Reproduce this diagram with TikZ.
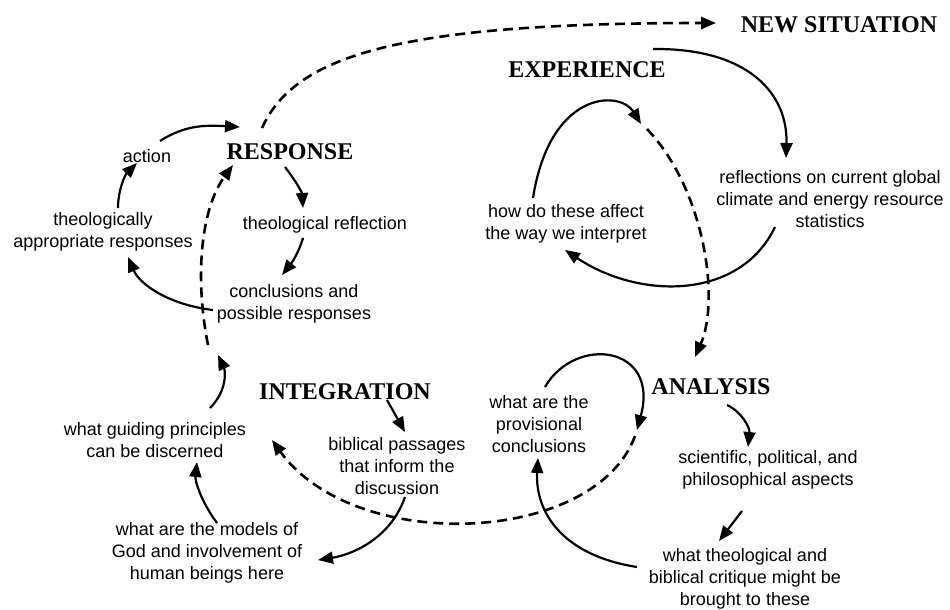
\documentclass[tikz,border=0pt]{standalone}
\usepackage{fontspec}
\setmainfont{Liberation Serif}
\setsansfont{Liberation Sans}
\usetikzlibrary{arrows.meta}
\tikzset{
  txt/.style={font=\sffamily\fontsize{18}{22}\selectfont, align=center, inner sep=0pt},
  phase/.style={font=\rmfamily\bfseries\fontsize{24}{26}\selectfont, inner sep=0pt},
  solidarrow/.style={line width=2.2pt, -{Triangle[length=15pt,width=12pt]}},
  dasharrow/.style={line width=2.6pt, dash pattern=on 10pt off 6pt, -{Triangle[length=15pt,width=12pt]}}
}
\begin{document}
\begin{tikzpicture}[x=1pt,y=-1pt]
\useasboundingbox (0,0) rectangle (950,610);
\fill[white] (0,0) rectangle (950,610);

% phase labels
\node[phase] (newsit) at (839,25) {NEW SITUATION};
\node[phase] (exp) at (587,70) {EXPERIENCE};
\node[phase] (resp) at (290,152) {RESPONSE};
\node[phase] (integ) at (345,392) {INTEGRATION};
\node[phase] (anal) at (711,387) {ANALYSIS};

% text nodes
\node[txt] (refl) at (830,199) {reflections on current global\\climate and energy resource\\statistics};
\node[txt] (howdo) at (566,224) {how do these affect\\the way we interpret};
\node[txt] (action) at (147,156) {action};
\node[txt] (theoapp) at (103,232) {theologically\\appropriate responses};
\node[txt] (theorefl) at (325,225) {theological reflection};
\node[txt] (concl) at (294,304) {conclusions and\\possible responses};
\node[txt] (guiding) at (155,440) {what guiding principles\\can be discerned};
\node[txt] (biblical) at (397,466) {biblical passages\\that inform the\\discussion};
\node[txt] (models) at (207,553) {what are the models of\\God and involvement of\\human beings here};
\node[txt] (provis) at (539,424) {what are the\\provisional\\conclusions};
\node[txt] (sci) at (768,470) {scientific, political, and\\philosophical aspects};
\node[txt] (whattheo) at (745,579) {what theological and\\biblical critique might be\\brought to these};

% connector end points
\coordinate (dtopS) at (262,128);
\coordinate (dtopE) at (716,23);
\coordinate (expS) at (653,49);
\coordinate (reflT) at (786,158);
\coordinate (reflS) at (775,227);
\coordinate (howT) at (565,250);
\coordinate (howS) at (533,198);
\coordinate (loopT) at (641,124);
\coordinate (dexpS) at (647,129);
\coordinate (analT) at (695,357);
\coordinate (provS) at (545,387);
\coordinate (provLoopT) at (637,430);
\coordinate (dbigS) at (635,436);
\coordinate (guidT) at (272,440);
\coordinate (analS) at (727,405);
\coordinate (sciT) at (748,447);
\coordinate (sciS) at (742,511);
\coordinate (wtT) at (719,541);
\coordinate (wtS) at (637,567);
\coordinate (provT) at (538,458);
\coordinate (integS) at (387,400);
\coordinate (bibT) at (405,432);
\coordinate (bibS) at (405,497);
\coordinate (modT) at (318,560);
\coordinate (modS) at (217,523);
\coordinate (guidT2) at (197,462);
\coordinate (guidS) at (210,408);
\coordinate (dresT) at (218,355);
\coordinate (dresS) at (208,345);
\coordinate (respT) at (233,165);
\coordinate (conclS) at (213,310);
\coordinate (theoappT) at (128,257);
\coordinate (theoappS) at (118,208);
\coordinate (actionT) at (137,163);
\coordinate (actionS) at (160,141);
\coordinate (respT2) at (240,127);
\coordinate (respS) at (285,167);
\coordinate (trT) at (303,208);
\coordinate (trS) at (303,238);
\coordinate (conclT) at (282,275);

% dashed connectors
\draw[dasharrow] (dtopS) .. controls (295,55) and (400,23) .. (dtopE);
\draw[dasharrow] (dexpS) .. controls (705,190) and (720,300) .. (analT);
\draw[dasharrow] (dbigS) .. controls (595,545) and (355,555) .. (guidT);
\draw[dasharrow] (dresS) .. controls (195,280) and (200,210) .. (respT);

% solid connectors
\draw[solidarrow] (expS) .. controls (750,48) and (788,95) .. (reflT);
\draw[solidarrow] (reflS) .. controls (740,300) and (640,300) .. (howT);
\draw[solidarrow] (howS) .. controls (550,90) and (620,90) .. (loopT);
\draw[solidarrow] (provS) .. controls (575,335) and (660,345) .. (provLoopT);
\draw[solidarrow] (analS) .. controls (742,412) and (750,428) .. (sciT);
\draw[solidarrow] (sciS) -- (wtT);
\draw[solidarrow] (wtS) .. controls (560,555) and (535,510) .. (provT);
\draw[solidarrow] (integS) -- (bibT);
\draw[solidarrow] (bibS) .. controls (390,540) and (350,555) .. (modT);
\draw[solidarrow] (modS) .. controls (200,500) and (195,480) .. (guidT2);
\draw[solidarrow] (guidS) .. controls (228,390) and (225,370) .. (dresT);
\draw[solidarrow] (conclS) .. controls (170,305) and (140,285) .. (theoappT);
\draw[solidarrow] (theoappS) .. controls (118,190) and (125,175) .. (actionT);
\draw[solidarrow] (actionS) .. controls (185,125) and (205,125) .. (respT2);
\draw[solidarrow] (respS) .. controls (295,180) and (302,192) .. (trT);
\draw[solidarrow] (trS) .. controls (298,255) and (290,265) .. (conclT);
\end{tikzpicture}
\end{document}
